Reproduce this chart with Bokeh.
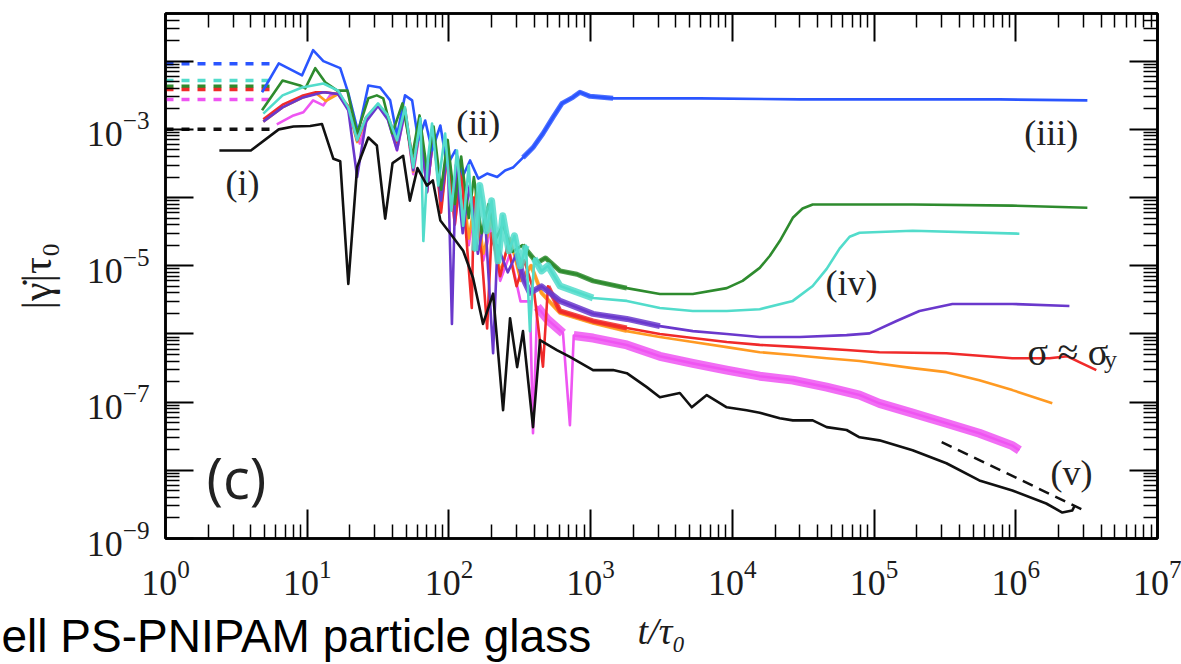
from bokeh.plotting import figure
from bokeh.models import LogAxis, FixedTicker, Label, Range1d, Title
from bokeh.embed import file_html
from bokeh.resources import INLINE

# ---- strain-rate histories |gamma_dot| tau0 versus t/tau0 ----
t_black = [2.4, 4.0, 6.3, 8.0, 10.5, 12.7, 15.3, 17.1, 19.5, 22.5, 27, 31, 35.5, 40, 47.5, 53, 60, 70, 77, 87,
           102, 126, 148, 174, 205, 241, 270, 303, 333, 392, 439, 578, 714, 1040, 1440, 1800, 2490, 3080, 4260, 5170,
           6600, 9130, 12600, 15600, 21600, 26700, 36900, 46300, 64000, 79000, 1.09e5, 1.87e5, 3.24e5, 5.53e5,
           9.46e5, 1.64e6, 2.13e6, 2.5e6, 2.59e6]
rate_black = [4.9e-4, 4.9e-4, 1.0e-3, 1.1e-3, 1.12e-3, 1.2e-3, 3.7e-4, 3.4e-4, 5.4e-6, 2.8e-4, 7.6e-4, 5.8e-4, 4.9e-5,
              3.2e-4, 4.1e-4, 9e-5, 2.7e-4, 1.5e-4, 1.78e-4, 4.6e-5, 3e-5, 1.66e-5, 6.6e-6, 1.4e-6, 3.9e-6, 7.6e-8,
              1.7e-6, 3.26e-7, 1.1e-6, 4.3e-8, 8.1e-7, 5.8e-7, 4.6e-7, 2.95e-7, 2.95e-7, 2.66e-7, 1.66e-7, 1.18e-7,
              1.36e-7, 8.4e-8, 1.27e-7, 8.4e-8, 7.6e-8, 7e-8, 5.8e-8, 5.4e-8, 5.4e-8, 4.3e-8, 3.9e-8, 3.05e-8,
              2.75e-8, 1.97e-8, 1.27e-8, 7.1e-9, 5.05e-9, 3.26e-9, 2.4e-9, 2.57e-9, 2.95e-9]

t_blue = [4.8, 6.3, 9.2, 11, 13, 17.1, 19.5, 22.9, 27, 32.7, 38.5, 43, 49, 55, 60.7, 68, 76, 87, 97, 111,
          126, 141, 161, 186, 219, 249, 283, 333, 392, 461, 542, 628, 750, 840, 989, 1440, 2620, 5890, 29900,
          1.51e5, 7.66e5, 3.2e6]
rate_blue = [3.5e-3, 9.3e-3, 6.2e-3, 1.45e-2, 1.0e-2, 7.9e-3, 3.4e-3, 9e-4, 4.4e-3, 4.1e-3, 2.66e-3, 8.1e-4, 3.15e-3,
             2.66e-3, 6.9e-4, 1.35e-3, 4.9e-4, 1.14e-3, 2.95e-4, 4.9e-4, 2.1e-4, 3.5e-4, 1.9e-4, 2.25e-4, 2.0e-4,
             2.5e-4, 2.75e-4, 3.85e-4, 5.4e-4, 8.7e-4, 1.5e-3, 2.4e-3, 2.95e-3, 3.5e-3, 3.05e-3, 2.85e-3, 2.85e-3,
             2.85e-3, 2.75e-3, 2.75e-3, 2.75e-3, 2.66e-3]

t_green = [4.8, 6.7, 8.9, 9.7, 11.4, 13.4, 16.3, 19.2, 22.5, 27, 31, 34.4, 39.8, 47, 55, 62, 70, 78, 88, 98,
           110, 122, 138, 150, 170, 190, 215, 240, 280, 330, 419, 480, 608, 800, 1040, 1800, 3080, 5260, 9130,
           11800, 15600, 18400, 21600, 26700, 31300, 36900, 1.87e5, 9.46e5, 3.2e6]
rate_green = [1.9e-3, 5.2e-3, 4.4e-3, 4.0e-3, 7.9e-3, 4.9e-3, 3.7e-3, 3.7e-3, 8.7e-4, 2.85e-3, 3.15e-3, 2.85e-3,
              8.7e-4, 2.4e-3, 4e-4, 1.6e-3, 2.5e-4, 1.1e-3, 1.3e-4, 7e-4, 8e-5, 4e-4, 5e-5, 2e-4, 3e-5, 8e-5,
              2.5e-5, 4e-5, 1.6e-5, 2e-5, 1.1e-5, 1.3e-5, 8.4e-6, 7.5e-6, 6e-6, 4.7e-6, 3.85e-6, 3.85e-6, 4.7e-6,
              6e-6, 9.3e-6, 1.4e-5, 2.3e-5, 5.05e-5, 6.9e-5, 7.9e-5, 7.9e-5, 7.6e-5, 7.1e-5]

t_cyan = [4.9, 6.7, 9.2, 13, 16.5, 19.5, 22.5, 26, 31.6, 37, 43, 49, 56, 63, 66, 71, 76, 84, 94, 104,
          114, 126, 138, 152, 165, 185, 200, 222, 240, 265, 290, 320, 350, 373, 400, 450, 500, 608, 1040, 1800,
          3080, 5260, 9130, 15600, 26700, 36900, 46300, 57100, 67200, 79000, 1.87e5, 1.06e6]
rate_cyan = [1.7e-3, 3.15e-3, 4.1e-3, 4.7e-3, 3.7e-3, 2.1e-3, 6.9e-4, 1.5e-3, 2.4e-3, 1.6e-3, 6.9e-4, 2.1e-3,
             2.75e-4, 1.45e-3, 2.3e-5, 3.5e-4, 1.22e-3, 1.5e-4, 8.7e-4, 6.4e-5, 4.9e-4, 3.85e-5, 2.95e-4, 1.66e-5,
             1.5e-4, 3.26e-5, 9e-5, 1.18e-5, 5.4e-5, 1.66e-5, 2.75e-5, 1.0e-5, 1.97e-5, 1.1e-6, 1.27e-5, 8.4e-6,
             1.0e-5, 5.05e-6, 3.37e-6, 3.05e-6, 2.4e-6, 2.17e-6, 2.17e-6, 2.3e-6, 3.05e-6, 5.05e-6, 9e-6, 1.78e-5,
             2.66e-5, 3.05e-5, 3.26e-5, 2.95e-5]

t_orange = [4.9, 6.7, 9.2, 11.5, 13.5, 16.5, 19.5, 22.5, 26, 31.6, 37, 43, 49, 56, 63, 70, 78, 88, 98, 110,
            122, 138, 155, 175, 200, 230, 270, 320, 380, 450, 608, 1040, 1800, 3080, 5260, 9130, 15600, 26700,
            46300, 79000, 1.87e5, 3.24e5, 5.53e5, 9.46e5, 1.81e6]
rate_orange = [1.3e-3, 2.1e-3, 2.9e-3, 3.4e-3, 2.6e-3, 3.3e-3, 2.0e-3, 6.5e-4, 1.4e-3, 2.3e-3, 1.5e-3, 5.5e-4,
               1.9e-3, 2.4e-4, 1.2e-3, 1.5e-4, 9e-4, 9e-5, 6e-4, 5e-5, 3e-4, 2.5e-5, 1.2e-4, 1.5e-5, 5e-5, 8e-6,
               2.5e-5, 6e-6, 1e-5, 4e-6, 2.03e-6, 1.45e-6, 1.1e-6, 9e-7, 7.6e-7, 6.4e-7, 5.4e-7, 4.9e-7, 4.4e-7,
               4e-7, 3.15e-7, 2.75e-7, 2.1e-7, 1.5e-7, 9.6e-8]

t_red = [4.9, 6.7, 9.2, 11.5, 13.5, 16.5, 19.5, 22.5, 26, 31.6, 37, 43, 49, 56, 63, 70, 78, 88, 98, 110,
         122, 145, 150, 170, 186, 200, 230, 260, 300, 340, 400, 461, 500, 608, 1040, 1800, 3080, 5260, 9130,
         15600, 29900, 64000, 1.09e5, 3.24e5, 9.46e5, 1.73e6, 2.31e6, 2.81e6, 3.7e6]
rate_red = [1.4e-3, 2.3e-3, 3.1e-3, 3.5e-3, 3.5e-3, 3.3e-3, 2.2e-3, 6.8e-4, 1.5e-3, 2.3e-3, 1.6e-3, 6.5e-4, 2.0e-3,
            3e-4, 1.3e-3, 1.2e-4, 9e-4, 6e-5, 5e-4, 4e-5, 2.5e-4, 2.4e-6, 1e-4, 1.5e-5, 1.2e-6, 3e-5, 7e-6, 2e-5,
            5e-6, 1.2e-5, 4e-6, 3.3e-7, 5e-6, 2.17e-6, 1.55e-6, 1.22e-6, 1.0e-6, 8.7e-7, 7.6e-7, 6.9e-7, 6.4e-7,
            5.8e-7, 5.4e-7, 5.2e-7, 4.4e-7, 4.4e-7, 4.7e-7, 3.85e-7, 2.95e-7]

t_purple = [4.9, 6.7, 9.2, 13, 16.5, 19.5, 22.5, 26, 31.6, 37, 43, 49, 56, 63, 70, 78, 88, 98, 105, 112,
            125, 140, 160, 180, 205, 220, 260, 300, 340, 373, 450, 608, 1040, 1800, 3080, 5260, 9130, 15600,
            29900, 64000, 92900, 1.44e5, 2.09e5, 3.57e5, 9.46e5, 2.39e6]
rate_purple = [1.3e-3, 2.1e-3, 2.9e-3, 3.5e-3, 3.3e-3, 1.9e-3, 2e-4, 1.3e-3, 2.2e-3, 1.4e-3, 5e-4, 1.9e-3, 2.5e-4,
               1.2e-3, 1.2e-4, 9e-4, 9e-5, 5e-4, 1.4e-6, 3e-4, 3e-5, 1.5e-4, 1.5e-5, 5e-5, 5.2e-7, 2e-5, 8e-6,
               1.5e-5, 6e-6, 4e-6, 5e-6, 3.05e-6, 1.97e-6, 1.66e-6, 1.3e-6, 1.1e-6, 1.0e-6, 9e-7, 9e-7, 9.6e-7,
               1.02e-6, 1.55e-6, 2.17e-6, 2.75e-6, 2.75e-6, 2.57e-6]

t_magenta = [6.1, 8.0, 9.4, 11, 13, 14.5, 17, 19.5, 23.5, 27, 31.6, 37, 43, 49, 56, 63, 70, 78, 88, 98,
             110, 122, 138, 155, 175, 200, 230, 270, 320, 373, 392, 420, 500, 638, 714, 760, 1040, 1800, 3080,
             5260, 9130, 15600, 26700, 46300, 79000, 1.09e5, 1.87e5, 3.24e5, 5.53e5, 9.46e5, 1.06e6]
rate_magenta = [1.18e-3, 1.6e-3, 1.78e-3, 2.66e-3, 2.25e-3, 3.15e-3, 3.37e-3, 1.9e-3, 6.2e-4, 1.6e-3, 2.25e-3,
                1.45e-3, 4.9e-4, 1.8e-3, 2.2e-4, 1.1e-3, 1.2e-4, 8e-4, 7e-5, 5e-4, 4e-5, 2.5e-4, 2e-5, 1e-4,
                1.2e-5, 4e-5, 6e-6, 1.5e-5, 3e-6, 3e-6, 3.5e-8, 2.5e-6, 1.6e-6, 1.03e-6, 4.6e-8, 9.5e-7, 8.7e-7,
                6.9e-7, 4.7e-7, 3.7e-7, 2.95e-7, 2.4e-7, 2.1e-7, 1.66e-7, 1.27e-7, 9.6e-8, 6.9e-8, 4.9e-8, 3.5e-8,
                2.3e-8, 1.97e-8]

# applied-stress levels drawn as dotted stubs at early times
level_t = [1.0, 5.8]
level_names = ["blue", "cyan", "green", "red", "magenta", "black"]
level_rates = [9.2e-3, 5.2e-3, 4.3e-3, 3.85e-3, 2.75e-3, 1.0e-3]

# 1/t guide line near the end of curve (v)
guide_t = [3.0e5, 2.9e6]
guide_rate = [2.6e-8, 2.7e-9]

colors = {
    "black": "#111111",
    "blue": "#2a55ff",
    "green": "#2e8b2e",
    "cyan": "#52dccb",
    "orange": "#ff9a22",
    "red": "#f02a2a",
    "purple": "#6a38cc",
    "magenta": "#ee55f2",
}

SERIF = "Liberation Serif"
INK = "#1c1c1c"

p = figure(width=1181, height=664, x_axis_type="log", y_axis_type="log",
           x_range=Range1d(1, 1e7), y_range=Range1d(1e-9, 0.05),
           toolbar_location=None, output_backend="svg",
           min_border_left=165, min_border_right=24, min_border_top=13, min_border_bottom=126)
p.background_fill_color = "white"
p.border_fill_color = "white"
p.grid.visible = False
p.outline_line_color = "black"
p.outline_line_width = 2.5

x_major = [10.0 ** n for n in range(0, 8)]
x_minor = [k * 10.0 ** n for n in range(0, 7) for k in range(2, 10)]
y_major = [10.0 ** n for n in range(-9, -1)]
y_minor = [k * 10.0 ** n for n in range(-9, -1) for k in range(2, 10) if k * 10.0 ** n <= 0.05]


def style_axis(ax, major, minor, tick_len, show_labels):
    ax.ticker = FixedTicker(ticks=major, minor_ticks=minor)
    ax.axis_line_width = 2.5
    ax.major_tick_in = tick_len
    ax.major_tick_out = 0
    ax.minor_tick_in = 14
    ax.minor_tick_out = 0
    ax.major_tick_line_width = 2
    ax.minor_tick_line_width = 1.5
    ax.major_tick_line_color = "black"
    ax.minor_tick_line_color = "black"
    if show_labels:
        ax.major_label_text_font = SERIF
        ax.major_label_text_font_size = "36px"
        ax.major_label_text_color = INK
        ax.axis_label_text_font = SERIF
        ax.axis_label_text_font_style = "normal"
        ax.axis_label_text_color = INK
    else:
        ax.major_label_text_font_size = "0px"
        ax.major_label_text_alpha = 0
        ax.major_label_standoff = 0


xa = p.xaxis[0]
style_axis(xa, x_major, x_minor, 29, True)
xa.major_label_standoff = 22
xa.axis_label = "t/τ₀"
xa.axis_label_text_font_style = "italic"
xa.axis_label_text_font_size = "38px"
xa.axis_label_standoff = 12

ya = p.yaxis[0]
style_axis(ya, y_major, y_minor, 28, True)
ya.major_label_standoff = 16
ya.major_label_overrides = {1e-8: "", 1e-6: "", 1e-4: "", 1e-2: ""}
ya.axis_label = "|γ\u0307|τ₀"
ya.axis_label_text_font_size = "42px"
ya.axis_label_standoff = 24

top_axis = LogAxis()
style_axis(top_axis, x_major, x_minor, 28, False)
p.add_layout(top_axis, "above")
right_axis = LogAxis()
style_axis(right_axis, y_major, y_minor, 28, False)
p.add_layout(right_axis, "right")

# caption line under the panel, pulled up into the row of the x-axis title
caption = Title(text="ell PS-PNIPAM particle glass", align="left", vertical_align="top",
                offset=-164, standoff=-90,
                text_font="Liberation Sans", text_font_size="46px", text_font_style="normal",
                text_color="#000000")
p.add_layout(caption, "below")

# dotted stress-level stubs
for name, r in zip(level_names, level_rates):
    p.line(level_t, [r, r], line_color=colors[name], line_width=3.5, line_dash="8 8")

# noisy-band thickness: list of (t_lo, t_hi) spans and a width per curve
bands = {
    "magenta": ([(420, 640), (760, 1.1e6)], 9),
    "orange": ([(300, 3000)], 4),
    "red": ([(500, 3000)], 5),
    "purple": ([(300, 5000)], 6),
    "blue": ([(300, 1500)], 5),
    "green": ([(300, 3000)], 5),
    "cyan": ([(150, 360), (400, 1500)], 7),
}

series = [
    ("magenta", t_magenta, rate_magenta),
    ("orange", t_orange, rate_orange),
    ("red", t_red, rate_red),
    ("purple", t_purple, rate_purple),
    ("blue", t_blue, rate_blue),
    ("green", t_green, rate_green),
    ("cyan", t_cyan, rate_cyan),
    ("black", t_black, rate_black),
]

for name, ts, rs in series:
    p.line(ts, rs, line_color=colors[name], line_width=2.6, line_join="round")
    if name in bands:
        spans, w = bands[name]
        for lo, hi in spans:
            sub_t = [t for t in ts if lo <= t <= hi]
            sub_r = [r for t, r in zip(ts, rs) if lo <= t <= hi]
            p.line(sub_t, sub_r, line_color=colors[name], line_width=w, line_alpha=0.85, line_join="round")

p.line(guide_t, guide_rate, line_color="#111111", line_width=2.5, line_dash="11 7")

ann = dict(text_font=SERIF, text_font_size="36px", text_color="#222222",
           text_align="center", text_baseline="middle")
p.add_layout(Label(x=3.49, y=1.66e-4, text="(i)", **ann))
p.add_layout(Label(x=161, y=1.22e-3, text="(ii)", **ann))
p.add_layout(Label(x=1.78e6, y=8.7e-4, text="(iii)", **ann))
p.add_layout(Label(x=6.94e4, y=5.5e-6, text="(iv)", **ann))
p.add_layout(Label(x=2.47e6, y=8.98e-9, text="(v)", **ann))
p.add_layout(Label(x=1.21e6, y=5.5e-7, text="σ ≈ σ", text_font=SERIF, text_font_size="38px",
                   text_color="#222222", text_align="left", text_baseline="alphabetic"))
p.add_layout(Label(x=4.2e6, y=4.2e-7, text="y", text_font=SERIF, text_font_size="26px",
                   text_color="#222222", text_align="left", text_baseline="alphabetic"))
p.add_layout(Label(x=3.16, y=8.1e-9, text="(c)", text_font="Open Sans", text_font_size="56px",
                   text_color="#222222", text_align="center", text_baseline="middle"))

open("out.html", "w").write(file_html(p, INLINE))
